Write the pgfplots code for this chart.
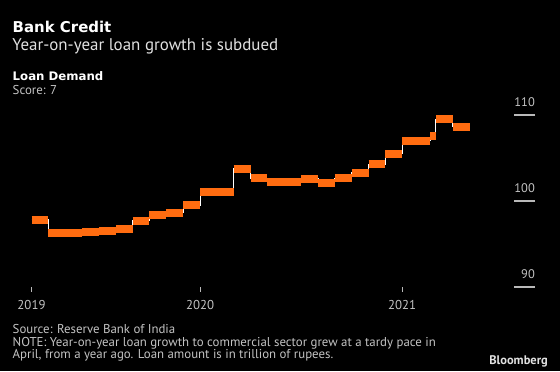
\documentclass[border=0pt]{standalone}
\usepackage{pgfplots}
\pgfplotsset{compat=1.18}
\usepackage{fontspec}
\setmainfont{PT Sans}
\newfontfamily\dvs{DejaVu Sans}
\definecolor{bborange}{RGB}{255,108,16}
\definecolor{subgray}{RGB}{225,225,225}
\definecolor{txtgray}{RGB}{195,195,195}
\definecolor{tickgray}{RGB}{185,185,185}
\begin{document}
\begin{tikzpicture}[x=1bp,y=1bp]
\fill[black] (0,0) rectangle (560,371);
\useasboundingbox (0,0) rectangle (560,371);
% titles
\node[anchor=base west, inner sep=0pt, text=white, font=\dvs\bfseries\fontsize{15}{18}\selectfont] at (12.5,338.7) {Bank Credit};
\node[anchor=base west, inner sep=0pt, text=subgray, font=\fontsize{17}{20}\selectfont] at (12.3,321) {Year-on-year loan growth is subdued};
\node[anchor=base west, inner sep=0pt, text=white, font=\dvs\bfseries\fontsize{11.8}{14}\selectfont] at (12.5,291) {Loan Demand};
\node[anchor=base west, inner sep=0pt, text=txtgray, font=\fontsize{12.9}{15}\selectfont] at (12.5,276.7) {Score: 7};
% footer
\node[anchor=base west, inner sep=0pt, text=txtgray, font=\fontsize{12.9}{15}\selectfont] at (12.5,37.7) {Source: Reserve Bank of India};
\node[anchor=base west, inner sep=0pt, text=txtgray, font=\fontsize{12.9}{15}\selectfont] at (12.5,24.3) {NOTE: Year-on-year loan growth to commercial sector grew at a tardy pace in};
\node[anchor=base west, inner sep=0pt, text=txtgray, font=\fontsize{12.9}{15}\selectfont] at (12.5,12.7) {April, from a year ago. Loan amount is in trillion of rupees.};
\node[anchor=base east, inner sep=0pt, text=subgray, font=\bfseries\fontsize{12.5}{14}\selectfont] at (548,7) {Bloomberg};
% x axis (ticks and labels)
\begin{axis}[at={(31.5bp,84bp)}, anchor=south west, scale only axis,
  width=503.5bp, height=180.6bp, xmin=0, xmax=29.88, ymin=90, ymax=111,
  axis x line*=bottom, axis y line*=left, axis line style={draw=none},
  ytick=\empty, xtick={0,10,22}, xticklabels={2019,2020,2021},
  tick align=outside, major tick length=4.5bp,
  major tick style={tickgray, line width=1bp},
  xticklabel style={anchor=north, inner sep=0pt, yshift=-9bp, text=txtgray, font=\fontsize{12.9}{15}\selectfont}]
\end{axis}
% y axis and data
\begin{axis}[at={(31.5bp,84bp)}, anchor=south west, scale only axis,
  width=503.5bp, height=180.6bp, xmin=0, xmax=29.88, ymin=90, ymax=111,
  axis x line*=bottom, axis y line*=right, axis line style={draw=none},
  xtick=\empty, ytick={90,100,110},
  tick align=inside, major tick length=21bp,
  major tick style={tickgray, line width=1.2bp},
  /pgf/number format/assume math mode=true,
  yticklabel style={anchor=south east, inner sep=0pt, yshift=7.7bp, text=txtgray, font=\fontsize{12.5}{14}\selectfont},
  clip=false]
\addplot[white, line width=0.9bp, const plot mark left, mark=none] table {
x y
0 97.8
1 96.25
2 96.25
3 96.4
4 96.5
5 96.8
6 97.7
7 98.4
8 98.65
9 99.5
10 101.0
11 101.0
12 103.75
13 102.65
14 102.2
15 102.25
16 102.6
17 102.05
18 102.65
19 103.3
20 104.3
21 105.5
22 107.0
23 107.0
23.65 107.6
24 109.5
25 108.65
26 108.65
};
\addplot[bborange, line width=8bp, jump mark left, mark=none] table {
x y
0 97.8
1 96.25
2 96.25
3 96.4
4 96.5
5 96.8
6 97.7
7 98.4
8 98.65
9 99.5
10 101.0
11 101.0
12 103.75
13 102.65
14 102.2
15 102.25
16 102.6
17 102.05
18 102.65
19 103.3
20 104.3
21 105.5
22 107.0
23 107.0
23.65 107.6
24 109.5
25 108.65
26 108.65
};
\end{axis}
\end{tikzpicture}
\end{document}
